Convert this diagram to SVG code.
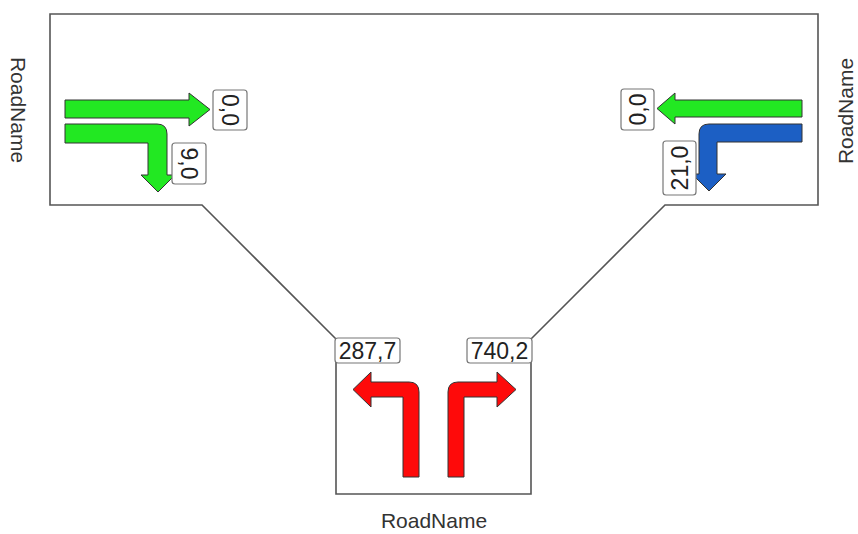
<svg xmlns="http://www.w3.org/2000/svg" width="858" height="534" viewBox="0 0 858 534">
<style>
.outline{fill:none;stroke:#555;stroke-width:1.6}
.arrow{stroke:#333;stroke-width:1;stroke-linejoin:round}
.green{fill:#22e822}
.blue{fill:#1c5fc4}
.red{fill:#fe0a0a}
.lbl{fill:#fff;stroke:#777;stroke-width:1.2}
.num{font-family:"Liberation Sans",Arial,sans-serif;font-size:23px;fill:#222;text-anchor:middle;dominant-baseline:central}
.road{font-family:"Liberation Sans",Arial,sans-serif;font-size:21px;fill:#333;text-anchor:middle}
</style>
<rect width="858" height="534" fill="#fff"/>
<g id="connectors">
<path class="outline" d="M336,339 L202,205 H50 V14 H818 V205 H665 L531,339 V494 H336 Z"/>
</g>
<g id="west-road">
<text class="road" dominant-baseline="central" transform="translate(18,110) rotate(90)">RoadName</text>
<path class="arrow green" d="M65,100 H189 V93 L210,109.5 L189,126 V118 H65 Z"/>
<path class="arrow green" d="M65,124 H157 Q167,124 167,134 V175 H175 L158,192 L141,175 H148 V143 H65 Z"/>
<g id="west-label-through">
<rect class="lbl" x="213" y="90" width="34" height="40" rx="3"/>
<text class="num" transform="translate(230,110) rotate(90)">0,0</text>
</g>
<g id="west-label-right">
<rect class="lbl" x="172" y="143" width="34" height="41" rx="3"/>
<text class="num" transform="translate(189,163.5) rotate(90)">9,0</text>
</g>
</g>
<g id="east-road">
<text class="road" dominant-baseline="central" transform="translate(845,111) rotate(-90)">RoadName</text>
<path class="arrow green" d="M802,100 H675 V93 L657,108.5 L675,124 V117 H802 Z"/>
<path class="arrow blue" d="M802,124 H709 Q699,124 699,134 V174 H692 L709,191 L726,174 H717 V142 H802 Z"/>
<g id="east-label-through">
<rect class="lbl" x="621" y="89" width="33" height="41" rx="3"/>
<text class="num" transform="translate(637.5,109.5) rotate(-90)">0,0</text>
</g>
<g id="east-label-left">
<rect class="lbl" x="663" y="141" width="33" height="54" rx="3"/>
<text class="num" transform="translate(679.5,168) rotate(-90)">21,0</text>
</g>
</g>
<g id="south-road">
<text class="road" x="434" y="528">RoadName</text>
<path class="arrow red" d="M403,477 V397 H371 V407 L353,389.5 L371,372 V382 H409 Q419,382 419,392 V477 Z"/>
<path class="arrow red" d="M448,477 V392 Q448,382 458,382 H497 V372 L516,389.5 L497,407 V397 H464 V477 Z"/>
<g id="south-label-left">
<rect class="lbl" x="335" y="338" width="65" height="25" rx="3"/>
<text class="num" x="367.5" y="351" font-size="24">287,7</text>
</g>
<g id="south-label-right">
<rect class="lbl" x="467" y="338" width="65" height="25" rx="3"/>
<text class="num" x="499.5" y="351" font-size="24">740,2</text>
</g>
</g>
</svg>
